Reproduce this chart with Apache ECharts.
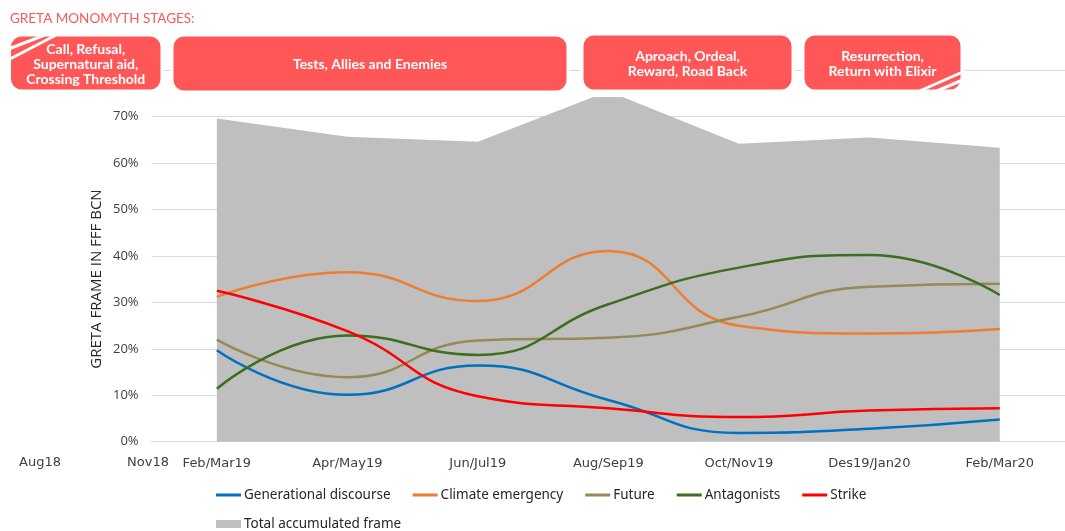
<!DOCTYPE html>
<html>
<head>
<meta charset="utf-8">
<script src="https://cdn.jsdelivr.net/npm/echarts@6/dist/echarts.min.js"></script>
<style>
html,body{margin:0;padding:0;background:#fff;}
#chart{width:1065px;height:531px;}
</style>
</head>
<body>
<div id="chart"></div>
<script>
const categories = ['Feb/Mar19','Apr/May19','Jun/Jul19','Aug/Sep19','Oct/Nov19','Des19/Jan20','Feb/Mar20'];
const extraTickLabels = ['Aug18','Nov18'];
const generational = [19.7,10.1,16.4,9.0,1.9,2.8,4.8];
const climate = [31.2,36.5,30.3,41.1,25.0,23.3,24.3];
const future = [22.0,13.9,21.8,22.4,26.9,33.4,34.0];
const antagonists = [11.4,22.9,18.7,29.6,37.5,40.2,31.6];
const strike = [32.5,23.8,9.8,7.2,5.3,6.7,7.2];
const total = [69.6,65.7,64.6,75.5,64.2,65.5,63.3];
const stageTitle = 'GRETA MONOMYTH STAGES:';
const yAxisTitle = 'GRETA FRAME IN FFF BCN';
const stages = ['Call, Refusal,\nSupernatural aid,\nCrossing Threshold','Tests, Allies and Enemies','Aproach, Ordeal,\nReward, Road Back','Resurrection,\nReturn with Elixir'];

const chart = echarts.init(document.getElementById('chart'));
const RED = '#ff5757';
const boxes = [
  {x:9.5,y:35,w:152.5,h:56},
  {x:172,y:35,w:396,h:57},
  {x:582,y:34,w:211,h:57},
  {x:803,y:34,w:159,h:57}
];
const graphics = [];
graphics.push({type:'text',left:10,top:12,z:100,style:{text:stageTitle,fill:RED,font:'13.5px Lato'}});
// white band under the third stage box (hides the area's peak as in the reference)
graphics.push({type:'rect',z:90,shape:{x:582,y:86,width:211,height:11},style:{fill:'#fff'}});
boxes.forEach((b,i)=>{
  graphics.push({type:'rect',z:100,shape:{x:b.x,y:b.y,width:b.w,height:b.h,r:12},style:{fill:RED,stroke:'#fff',lineWidth:3}});
  graphics.push({type:'text',z:102,x:b.x+b.w/2,y:b.y+b.h/2+1,style:{text:stages[i],fill:'#fff',font:'bold 14px Lato',align:'center',verticalAlign:'middle',lineHeight:15}});
});
[[6,50,50,33],[6,61,60,33],[915,93,965,71],[932,93,965,79]].forEach(s=>{
  graphics.push({type:'line',z:101,shape:{x1:s[0],y1:s[1],x2:s[2],y2:s[3]},style:{stroke:'#fff',lineWidth:3}});
});
const extraX = [40,148];
extraTickLabels.forEach((t,i)=>{
  graphics.push({type:'text',z:50,x:extraX[i],y:463,style:{text:t,fill:'#404040',font:'13px "DejaVu Sans"',align:'center',verticalAlign:'middle'}});
});
graphics.push({type:'text',z:50,x:97,y:279,rotation:Math.PI/2,style:{text:yAxisTitle,fill:'#262626',font:'15px "Open Sans"',align:'center',verticalAlign:'middle'}});

function lineSeries(name,data,color){
  return {name,type:'line',data,smooth:0.5,symbol:'none',lineStyle:{width:2.5,color},itemStyle:{color},z:3};
}

const option = {
  animation:false,
  backgroundColor:'#fff',
  grid:{left:151.6,top:70.3,width:925.4,height:371.4,containLabel:false},
  xAxis:{type:'category',data:categories,boundaryGap:true,
    axisLine:{lineStyle:{color:'#d9d9d9',width:1}},axisTick:{show:false},
    axisLabel:{color:'#404040',fontFamily:'DejaVu Sans',fontSize:13,margin:15}},
  yAxis:{type:'value',min:0,max:80,interval:10,
    axisLine:{show:false},axisTick:{show:false},
    axisLabel:{formatter:'{value}%',color:'#404040',fontFamily:'Open Sans',fontSize:13,margin:13},
    splitLine:{lineStyle:{color:'#d9d9d9',width:1}}},
  legend:[
    {data:['Generational discourse','Climate emergency','Future','Antagonists','Strike'],
     left:216,top:488,padding:0,itemWidth:25,itemHeight:3,itemGap:22,icon:'rect',
     textStyle:{color:'#262626',fontFamily:'Noto Sans',fontSize:13.5,padding:[0,0,0,-2]}},
    {data:['Total accumulated frame'],left:216,top:517,padding:0,itemWidth:25,itemHeight:8,icon:'rect',
     textStyle:{color:'#262626',fontFamily:'Noto Sans',fontSize:13.5,padding:[0,0,0,-2]}}
  ],
  series:[
    {name:'Total accumulated frame',type:'line',data:total,symbol:'none',smooth:false,
     lineStyle:{width:0,color:'#bfbfbf'},itemStyle:{color:'#bfbfbf'},areaStyle:{color:'#bfbfbf',opacity:1},z:1},
    lineSeries('Generational discourse',generational,'#0070c0'),
    lineSeries('Climate emergency',climate,'#ed7d31'),
    lineSeries('Future',future,'#948a54'),
    lineSeries('Antagonists',antagonists,'#3b6e1f'),
    lineSeries('Strike',strike,'#ff0000')
  ],
  graphic:graphics
};
chart.setOption(option);
</script>
</body>
</html>
